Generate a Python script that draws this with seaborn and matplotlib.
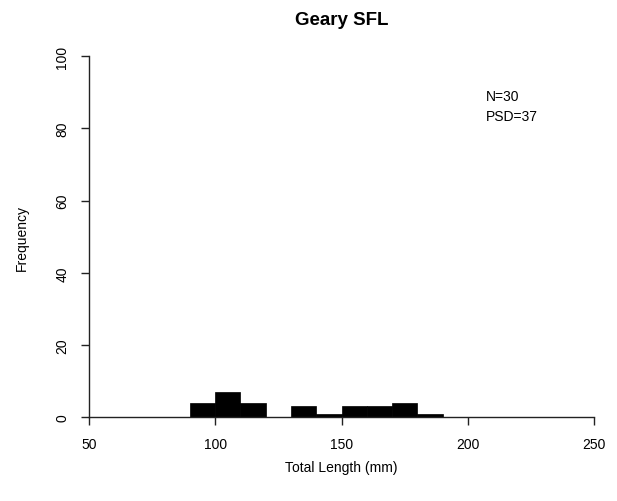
import matplotlib
matplotlib.use("Agg")
import matplotlib.pyplot as plt
import numpy as np
import seaborn as sns

# Length-frequency data (10 mm bins)
bin_edges = [90, 100, 110, 120, 130, 140, 150, 160, 170, 180, 190]
counts = [4, 7, 4, 0, 3, 1, 3, 3, 4, 1]
x_ticks = [50, 100, 150, 200, 250]
y_ticks = [0, 20, 40, 60, 80, 100]
title = "Geary SFL"
n_fish = 30
psd = 37

sns.set_style("ticks")
plt.rcParams["font.family"] = ["Liberation Sans", "DejaVu Sans"]
plt.rcParams["text.color"] = "black"
plt.rcParams["axes.labelcolor"] = "black"
plt.rcParams["xtick.color"] = "black"
plt.rcParams["ytick.color"] = "black"

fig = plt.figure(figsize=(6.17, 5.02), dpi=100)
ax = fig.add_axes([0.144, 0.167, 0.819, 0.719])

centers = (np.array(bin_edges[:-1]) + np.array(bin_edges[1:])) / 2
sns.histplot(
    x=centers,
    weights=counts,
    bins=bin_edges,
    color="black",
    edgecolor="black",
    alpha=1,
    linewidth=0.5,
    ax=ax,
)

ax.set_xlim(50, 250)
ax.set_ylim(0, 100)
ax.set_xticks(x_ticks)
ax.set_yticks(y_ticks)
ax.tick_params(axis="both", labelsize=10, length=6, width=1, color="#222222")
for lbl in ax.get_yticklabels():
    lbl.set_rotation(90)
    lbl.set_verticalalignment("center")
ax.tick_params(axis="x", pad=8)
ax.tick_params(axis="y", pad=8)

sns.despine(ax=ax)
for side in ["left", "bottom"]:
    ax.spines[side].set_linewidth(1)
    ax.spines[side].set_color("#222222")

ax.set_xlabel("Total Length (mm)", fontsize=10, labelpad=7)
ax.set_ylabel("Frequency", fontsize=10, labelpad=19)
ax.set_title(title, fontsize=13.5, fontweight="bold", pad=23)

ax.text(207, 89, f"N={n_fish}", fontsize=10, va="center", ha="left")
ax.text(207, 83.5, f"PSD={psd}", fontsize=10, va="center", ha="left")

fig.savefig("out.png", dpi=100)
